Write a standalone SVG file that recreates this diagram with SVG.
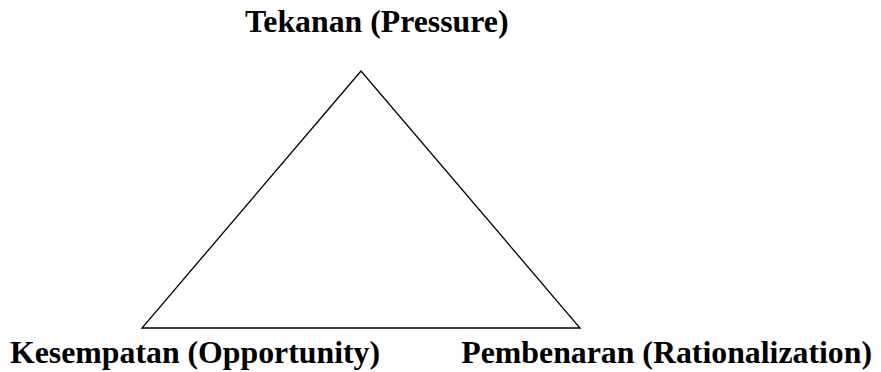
<svg xmlns="http://www.w3.org/2000/svg" width="881" height="372" viewBox="0 0 881 372">
<style>
text{font-family:'Liberation Serif','Times New Roman',Times,serif;font-weight:bold;font-size:31.8px;fill:#000}
.edge{fill:none;stroke:#000;stroke-width:1.3}
</style>
<rect width="881" height="372" fill="#fff"/>
<g id="connectors">
<polygon class="edge" points="361,71 142,328 580,328"/>
</g>
<g id="node-pressure"><text x="245" y="32">Tekanan (Pressure)</text></g>
<g id="node-opportunity"><text x="10" y="363">Kesempatan (Opportunity)</text></g>
<g id="node-rationalization"><text x="872" y="363" text-anchor="end">Pembenaran (Rationalization)</text></g>
</svg>
